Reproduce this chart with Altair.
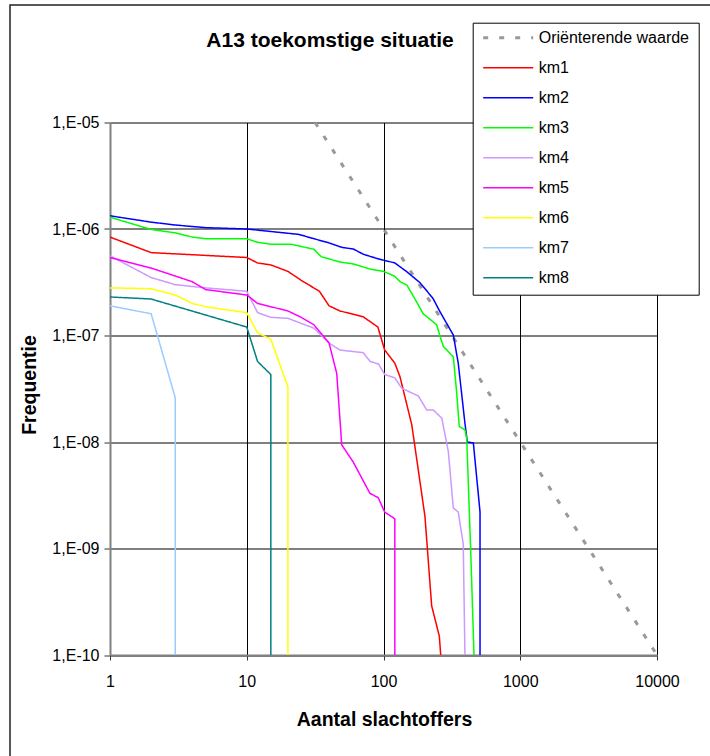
import altair as alt
import pandas as pd

# ---------------- data ----------------
series_names = ["Oriënterende waarde", "km1", "km2", "km3", "km4", "km5", "km6", "km7", "km8"]
series_colors = ["#999999", "#FF0000", "#0000FF", "#00FF00", "#CC99FF", "#FF00FF", "#FFFF00", "#99CCFF", "#008080"]

orient_x = [31.6, 100, 1000, 10000]
orient_y = [1e-5, 1e-6, 1e-8, 1e-10]

km1_x = [1, 2, 10, 12, 15, 20, 25, 34, 40, 48, 71, 91, 102, 121, 132, 161, 201, 225, 256, 262]
km1_y = [8.4e-7, 6.0e-7, 5.4e-7, 4.8e-7, 4.6e-7, 4.0e-7, 3.3e-7, 2.6e-7, 1.9e-7, 1.7e-7,
         1.5e-7, 1.2e-7, 7.3e-8, 5.5e-8, 4.1e-8, 1.45e-8, 2.0e-9, 2.9e-10, 1.5e-10, 1e-10]

km2_x = [1, 2, 3, 5, 10, 24, 30, 40, 50, 60, 71, 89, 100, 121, 148, 185, 230, 259, 324, 352,
         394, 410, 454, 508, 508]
km2_y = [1.33e-6, 1.16e-6, 1.09e-6, 1.03e-6, 1.0e-6, 8.9e-7, 8.2e-7, 7.4e-7, 6.7e-7, 6.5e-7,
         5.8e-7, 5.3e-7, 5.1e-7, 4.8e-7, 3.97e-7, 3.13e-7, 2.23e-7, 1.67e-7, 1.01e-7, 5.5e-8,
         1.5e-8, 1.0e-8, 9.8e-9, 2.2e-9, 1e-10]

km3_x = [1, 2, 3, 4, 5, 10, 12, 15, 21, 24.5, 31, 35, 48, 60, 80, 100, 121, 132, 148, 170,
         195, 245, 259, 274, 324, 343, 358, 394, 406, 434, 459]
km3_y = [1.29e-6, 9.9e-7, 9.2e-7, 8.4e-7, 8.1e-7, 8.1e-7, 7.5e-7, 7.2e-7, 7.2e-7, 6.9e-7,
         6.45e-7, 5.5e-7, 4.9e-7, 4.7e-7, 4.2e-7, 4.0e-7, 3.6e-7, 3.2e-7, 2.98e-7, 2.2e-7,
         1.6e-7, 1.26e-7, 9.8e-8, 7.9e-8, 6.3e-8, 2.9e-8, 1.4e-8, 1.3e-8, 1.08e-8, 9.7e-10, 1e-10]

km4_x = [1, 2, 3, 5, 10, 12, 15, 20, 31, 40, 48, 71, 80, 92, 102, 121, 136, 180, 207, 231,
         267, 298, 324, 352, 383, 394]
km4_y = [5.6e-7, 3.5e-7, 3.0e-7, 2.8e-7, 2.6e-7, 1.64e-7, 1.48e-7, 1.45e-7, 1.17e-7, 8.5e-8,
         7.3e-8, 6.9e-8, 5.7e-8, 5.4e-8, 4.3e-8, 4.0e-8, 3.2e-8, 2.7e-8, 2.0e-8, 2.0e-8,
         1.67e-8, 8.1e-9, 2.4e-9, 2.2e-9, 1.1e-9, 1e-10]

km5_x = [1, 2, 4, 5, 10, 12, 20, 24.5, 31, 40, 45.5, 49.5, 60, 79.5, 91.5, 102, 121, 121]
km5_y = [5.4e-7, 4.3e-7, 3.2e-7, 2.7e-7, 2.4e-7, 2.0e-7, 1.7e-7, 1.5e-7, 1.26e-7, 8.5e-8,
         4.4e-8, 9.4e-9, 6.5e-9, 3.3e-9, 3.0e-9, 2.2e-9, 1.9e-9, 1e-10]

km6_x = [1, 2, 3, 4, 5, 10, 12, 15, 20, 20]
km6_y = [2.8e-7, 2.75e-7, 2.4e-7, 2.0e-7, 1.86e-7, 1.64e-7, 1.06e-7, 9.2e-8, 3.3e-8, 1e-10]

km7_x = [1, 2, 3, 3]
km7_y = [1.9e-7, 1.6e-7, 2.6e-8, 1e-10]

km8_x = [1, 2, 10, 12, 15, 15]
km8_y = [2.3e-7, 2.2e-7, 1.2e-7, 5.7e-8, 4.3e-8, 1e-10]

x_ticks = [1, 10, 100, 1000, 10000]
y_ticks = [1e-10, 1e-9, 1e-8, 1e-7, 1e-6, 1e-5]

# ---------------- build table ----------------
all_x = [orient_x, km1_x, km2_x, km3_x, km4_x, km5_x, km6_x, km7_x, km8_x]
all_y = [orient_y, km1_y, km2_y, km3_y, km4_y, km5_y, km6_y, km7_y, km8_y]
rows = []
for name, xs, ys in zip(series_names, all_x, all_y):
    for i, (xv, yv) in enumerate(zip(xs, ys)):
        rows.append({"series": name, "N": xv, "F": yv, "idx": i})
df = pd.DataFrame(rows)

FONT = "Liberation Sans"
W, H = 547, 532.5

dashes = [[5, 11]] + [[1, 0]] * 8
widths = [3] + [1.5] * 8

lines = alt.Chart(df).mark_line(clip=True).encode(
    x=alt.X("N:Q",
            scale=alt.Scale(type="log", domain=[1, 10000], nice=False),
            axis=alt.Axis(values=x_ticks, format="d", grid=True, gridColor="black", gridWidth=1,
                          domainColor="#808080", domainWidth=2, tickColor="#333333", tickSize=5,
                          labelFont=FONT, labelFontSize=16, labelColor="black",
                          labelBaseline="alphabetic", labelPadding=26.7, labelFlush=False,
                          title="Aantal slachtoffers", titleFont=FONT, titleFontSize=19.5,
                          titleFontWeight="bold", titleColor="black",
                          titleX=274, titleY=70, titleBaseline="alphabetic", titleAlign="center")),
    y=alt.Y("F:Q",
            scale=alt.Scale(type="log", domain=[1e-10, 1e-5], nice=False),
            axis=alt.Axis(values=y_ticks, grid=True, gridColor="black", gridWidth=1,
                          labelExpr="'1,E-' + (abs(round(log(datum.value)/LN10)) < 10 ? '0' : '') + abs(round(log(datum.value)/LN10))",
                          domainColor="#808080", domainWidth=2, tickColor="#333333", tickSize=6,
                          labelFont=FONT, labelFontSize=16, labelColor="black", labelPadding=5,
                          labelAlign="right", labelBaseline="middle",
                          title="Frequentie", titleFont=FONT, titleFontSize=19.5,
                          titleFontWeight="bold", titleColor="black", titleAngle=270,
                          titleX=-75, titleY=262, titleBaseline="alphabetic", titleAlign="center")),
    color=alt.Color("series:N", scale=alt.Scale(domain=series_names, range=series_colors),
                    legend=alt.Legend(title=None)),
    strokeDash=alt.StrokeDash("series:N", scale=alt.Scale(domain=series_names, range=dashes),
                              legend=alt.Legend(title=None)),
    strokeWidth=alt.StrokeWidth("series:N",
                                scale=alt.Scale(type="ordinal", domain=series_names, range=widths),
                                legend=alt.Legend(title=None)),
    order=alt.Order("idx:Q"),
)

frame_df = pd.DataFrame({"k": [0]})
frame = alt.Chart(frame_df).mark_rect(fillOpacity=0, stroke="#222222", strokeWidth=1.5, clip=False).encode(
    x=alt.value(-100), x2=alt.value(800), y=alt.value(-117.5), y2=alt.value(800)
)

chart = alt.layer(frame, lines).properties(
    width=W, height=H,
    background="white",
    title=alt.TitleParams("A13 toekomstige situatie", font=FONT, fontSize=21, fontWeight="bold",
                          color="black", anchor="middle", frame="group", dx=-53.5, offset=-46.5),
    autosize=alt.AutoSizeParams(type="none"),
    padding={"left": 110, "top": 122.5, "right": 53, "bottom": 101},
).configure_view(stroke=None).configure_legend(
    orient="none", legendX=362.7, legendY=-99.8,
    strokeColor="black", fillColor="white", padding=9,
    symbolType="stroke", symbolSize=2500, labelFont=FONT, labelFontSize=16, labelColor="black",
    labelOffset=4, clipHeight=12, rowPadding=14,
)

chart.save("out.html", embed_options={"renderer": "svg", "actions": False})
